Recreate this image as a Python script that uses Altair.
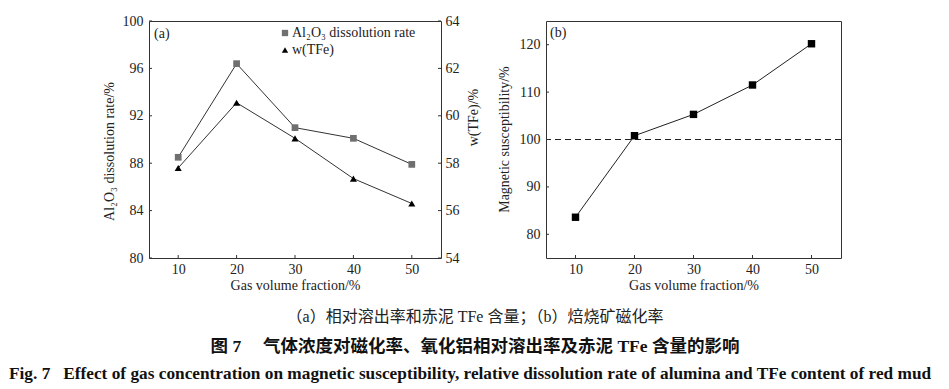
import altair as alt
import pandas as pd

# ---- data ----
gas = [10, 20, 30, 40, 50]
al2o3_rate = [88.5, 96.4, 91.0, 90.1, 87.9]
w_tfe = [57.8, 60.55, 59.05, 57.35, 56.3]
mag_sus = [83.6, 100.8, 105.3, 111.5, 120.2]

x_ticks = [10, 20, 30, 40, 50]
al_ticks = [80, 84, 88, 92, 96, 100]
tfe_ticks = [54, 56, 58, 60, 62, 64]
mag_ticks = [80, 90, 100, 110, 120]
mag_ref = [100]

series_names = ["Al\u2082O\u2083 dissolution rate", "w(TFe)"]

SERIF = "Liberation Serif"
CJK = "Liberation Serif, Noto Sans CJK SC"
INK = "#333333"
W_A, W_B, H = 292, 295, 237
TK = 3

df_al = pd.DataFrame({"gas": gas, "val": al2o3_rate, "series": series_names[0]})
df_fe = pd.DataFrame({"gas": gas, "val": w_tfe, "series": series_names[1]})
df_mag = pd.DataFrame({"gas": gas, "val": mag_sus})
df_xt = pd.DataFrame({"v": x_ticks})
df_alt = pd.DataFrame({"v": al_ticks})
df_fet = pd.DataFrame({"v": tfe_ticks})
df_magt = pd.DataFrame({"v": mag_ticks})
df_ref = pd.DataFrame({"v": mag_ref})
df_one = pd.DataFrame({"k": [0]})

x_scale = alt.Scale(domain=[5, 55], nice=False, zero=False)
x_axis = alt.Axis(values=x_ticks, title="Gas volume fraction/%", labelPadding=4,
                  titleY=27, titleBaseline="middle")

al_scale = alt.Scale(domain=[80, 100], nice=False, zero=False)
al_axis = alt.Axis(orient="left", values=al_ticks, title="Al\u2082O\u2083 dissolution rate/%",
                   labelPadding=6, titleX=-40, titleY=130, titleBaseline="middle")
fe_scale = alt.Scale(domain=[54, 64], nice=False, zero=False)
fe_axis = alt.Axis(orient="right", values=tfe_ticks, title="w(TFe)/%",
                   labelPadding=4, titleX=32, titleY=96, titleAngle=270,
                   titleBaseline="middle")
mag_scale = alt.Scale(domain=[75, 125], nice=False, zero=False)
mag_axis = alt.Axis(orient="left", values=mag_ticks, title="Magnetic susceptibility/%",
                    labelPadding=6, titleX=-42, titleY=118, titleBaseline="middle")

color_scale = alt.Scale(domain=series_names, range=["#6f6f6f", "#000000"])
shape_scale = alt.Scale(domain=series_names, range=["square", "triangle-up"])
legend = alt.Legend(orient="none", legendX=129, legendY=5, title=None,
                    labelFont=SERIF, labelFontSize=14, labelColor="#222222",
                    symbolSize=40, labelOffset=0, rowPadding=3)

XA = alt.X("gas:Q", scale=x_scale, axis=x_axis)

# ---------- panel (a) ----------
al_line = alt.Chart(df_al).mark_line(color=INK, strokeWidth=1).encode(
    x=XA, y=alt.Y("val:Q", scale=al_scale, axis=al_axis))
al_pts = alt.Chart(df_al).mark_point(filled=True, opacity=1, size=45).encode(
    x=XA, y=alt.Y("val:Q", scale=al_scale, axis=al_axis),
    color=alt.Color("series:N", scale=color_scale, legend=legend),
    shape=alt.Shape("series:N", scale=shape_scale, legend=legend))
al_tk = alt.Chart(df_alt).mark_rule(color=INK, strokeWidth=1).encode(
    y=alt.Y("v:Q", scale=al_scale, axis=al_axis), x=alt.value(0), x2=alt.value(TK))
group_al = alt.layer(al_line, al_pts, al_tk)

fe_line = alt.Chart(df_fe).mark_line(color=INK, strokeWidth=1).encode(
    x=XA, y=alt.Y("val:Q", scale=fe_scale, axis=fe_axis))
fe_pts = alt.Chart(df_fe).mark_point(filled=True, opacity=1, size=50).encode(
    x=XA, y=alt.Y("val:Q", scale=fe_scale, axis=fe_axis),
    color=alt.Color("series:N", scale=color_scale, legend=legend),
    shape=alt.Shape("series:N", scale=shape_scale, legend=legend))
fe_tk = alt.Chart(df_fet).mark_rule(color=INK, strokeWidth=1).encode(
    y=alt.Y("v:Q", scale=fe_scale, axis=fe_axis), x=alt.value(W_A - TK), x2=alt.value(W_A))
group_fe = alt.layer(fe_line, fe_pts, fe_tk)

xa_tk = alt.Chart(df_xt).mark_rule(color=INK, strokeWidth=1).encode(
    x=alt.X("v:Q", scale=x_scale, axis=x_axis), y=alt.value(H), y2=alt.value(H - TK))

lab_a = alt.Chart(df_one).mark_text(text="(a)", font=SERIF, fontSize=14, color="#222222",
                                    align="left", baseline="middle").encode(
    x=alt.value(5), y=alt.value(13))

cap1 = alt.Chart(df_one).mark_text(
    text="\uff08a\uff09\u76f8\u5bf9\u6eb6\u51fa\u7387\u548c\u8d64\u6ce5 TFe \u542b\u91cf\uff1b\uff08b\uff09\u7119\u70e7\u77ff\u78c1\u5316\u7387",
    font=CJK, fontSize=16, color="#222222", align="center", baseline="middle").encode(
    x=alt.value(326), y=alt.value(296))
cap2 = alt.Chart(df_one).mark_text(
    text="\u56fe 7\u3000 \u6c14\u4f53\u6d53\u5ea6\u5bf9\u78c1\u5316\u7387\u3001\u6c27\u5316\u94dd\u76f8\u5bf9\u6eb6\u51fa\u7387\u53ca\u8d64\u6ce5 TFe \u542b\u91cf\u7684\u5f71\u54cd",
    font=CJK, fontSize=17.5, fontWeight="bold", color="#111111", align="center",
    baseline="middle").encode(x=alt.value(326), y=alt.value(326))
cap3 = alt.Chart(df_one).mark_text(
    text="Fig. 7\u2002 Effect of gas concentration on magnetic susceptibility, relative dissolution rate of alumina and TFe content of red mud",
    font=SERIF, fontSize=17.3, fontWeight="bold", color="#111111", align="left",
    baseline="middle").encode(x=alt.value(-140), y=alt.value(353))

panel_a = alt.layer(group_al, group_fe, xa_tk, lab_a, cap1, cap2, cap3).resolve_scale(
    y="independent").properties(width=W_A, height=H)

# ---------- panel (b) ----------
XB = alt.X("gas:Q", scale=x_scale, axis=x_axis)
YB = alt.Y("val:Q", scale=mag_scale, axis=mag_axis)
mag_line = alt.Chart(df_mag).mark_line(color="#222222", strokeWidth=1).encode(x=XB, y=YB)
mag_pts = alt.Chart(df_mag).mark_point(filled=True, opacity=1, shape="square", size=55,
                                       color="#000000").encode(x=XB, y=YB)
ref = alt.Chart(df_ref).mark_rule(color="#222222", strokeWidth=1, strokeDash=[6, 4]).encode(
    y=alt.Y("v:Q", scale=mag_scale, axis=mag_axis))
mag_tk = alt.Chart(df_magt).mark_rule(color=INK, strokeWidth=1).encode(
    y=alt.Y("v:Q", scale=mag_scale, axis=mag_axis), x=alt.value(0), x2=alt.value(TK))
xb_tk = alt.Chart(df_xt).mark_rule(color=INK, strokeWidth=1).encode(
    x=alt.X("v:Q", scale=x_scale, axis=x_axis), y=alt.value(H), y2=alt.value(H - TK))
lab_b = alt.Chart(df_one).mark_text(text="(b)", font=SERIF, fontSize=14, color="#222222",
                                    align="left", baseline="middle").encode(
    x=alt.value(4), y=alt.value(12))

panel_b = alt.layer(ref, mag_line, mag_pts, mag_tk, xb_tk, lab_b).properties(width=W_B, height=H)

chart = alt.hconcat(panel_a, panel_b, spacing=105, bounds="flush").properties(
    padding={"left": 0, "top": 5, "right": 0, "bottom": 0},
    background="white",
).configure_view(stroke=INK, strokeWidth=1).configure_axis(
    grid=False, ticks=False, tickSize=0, domain=False,
    labelFont=SERIF, labelFontSize=14, labelColor="#222222",
    titleFont=SERIF, titleFontSize=14, titleFontWeight="normal", titleColor="#222222",
)

chart.save("out.html", embed_options={"renderer": "svg", "actions": False})
